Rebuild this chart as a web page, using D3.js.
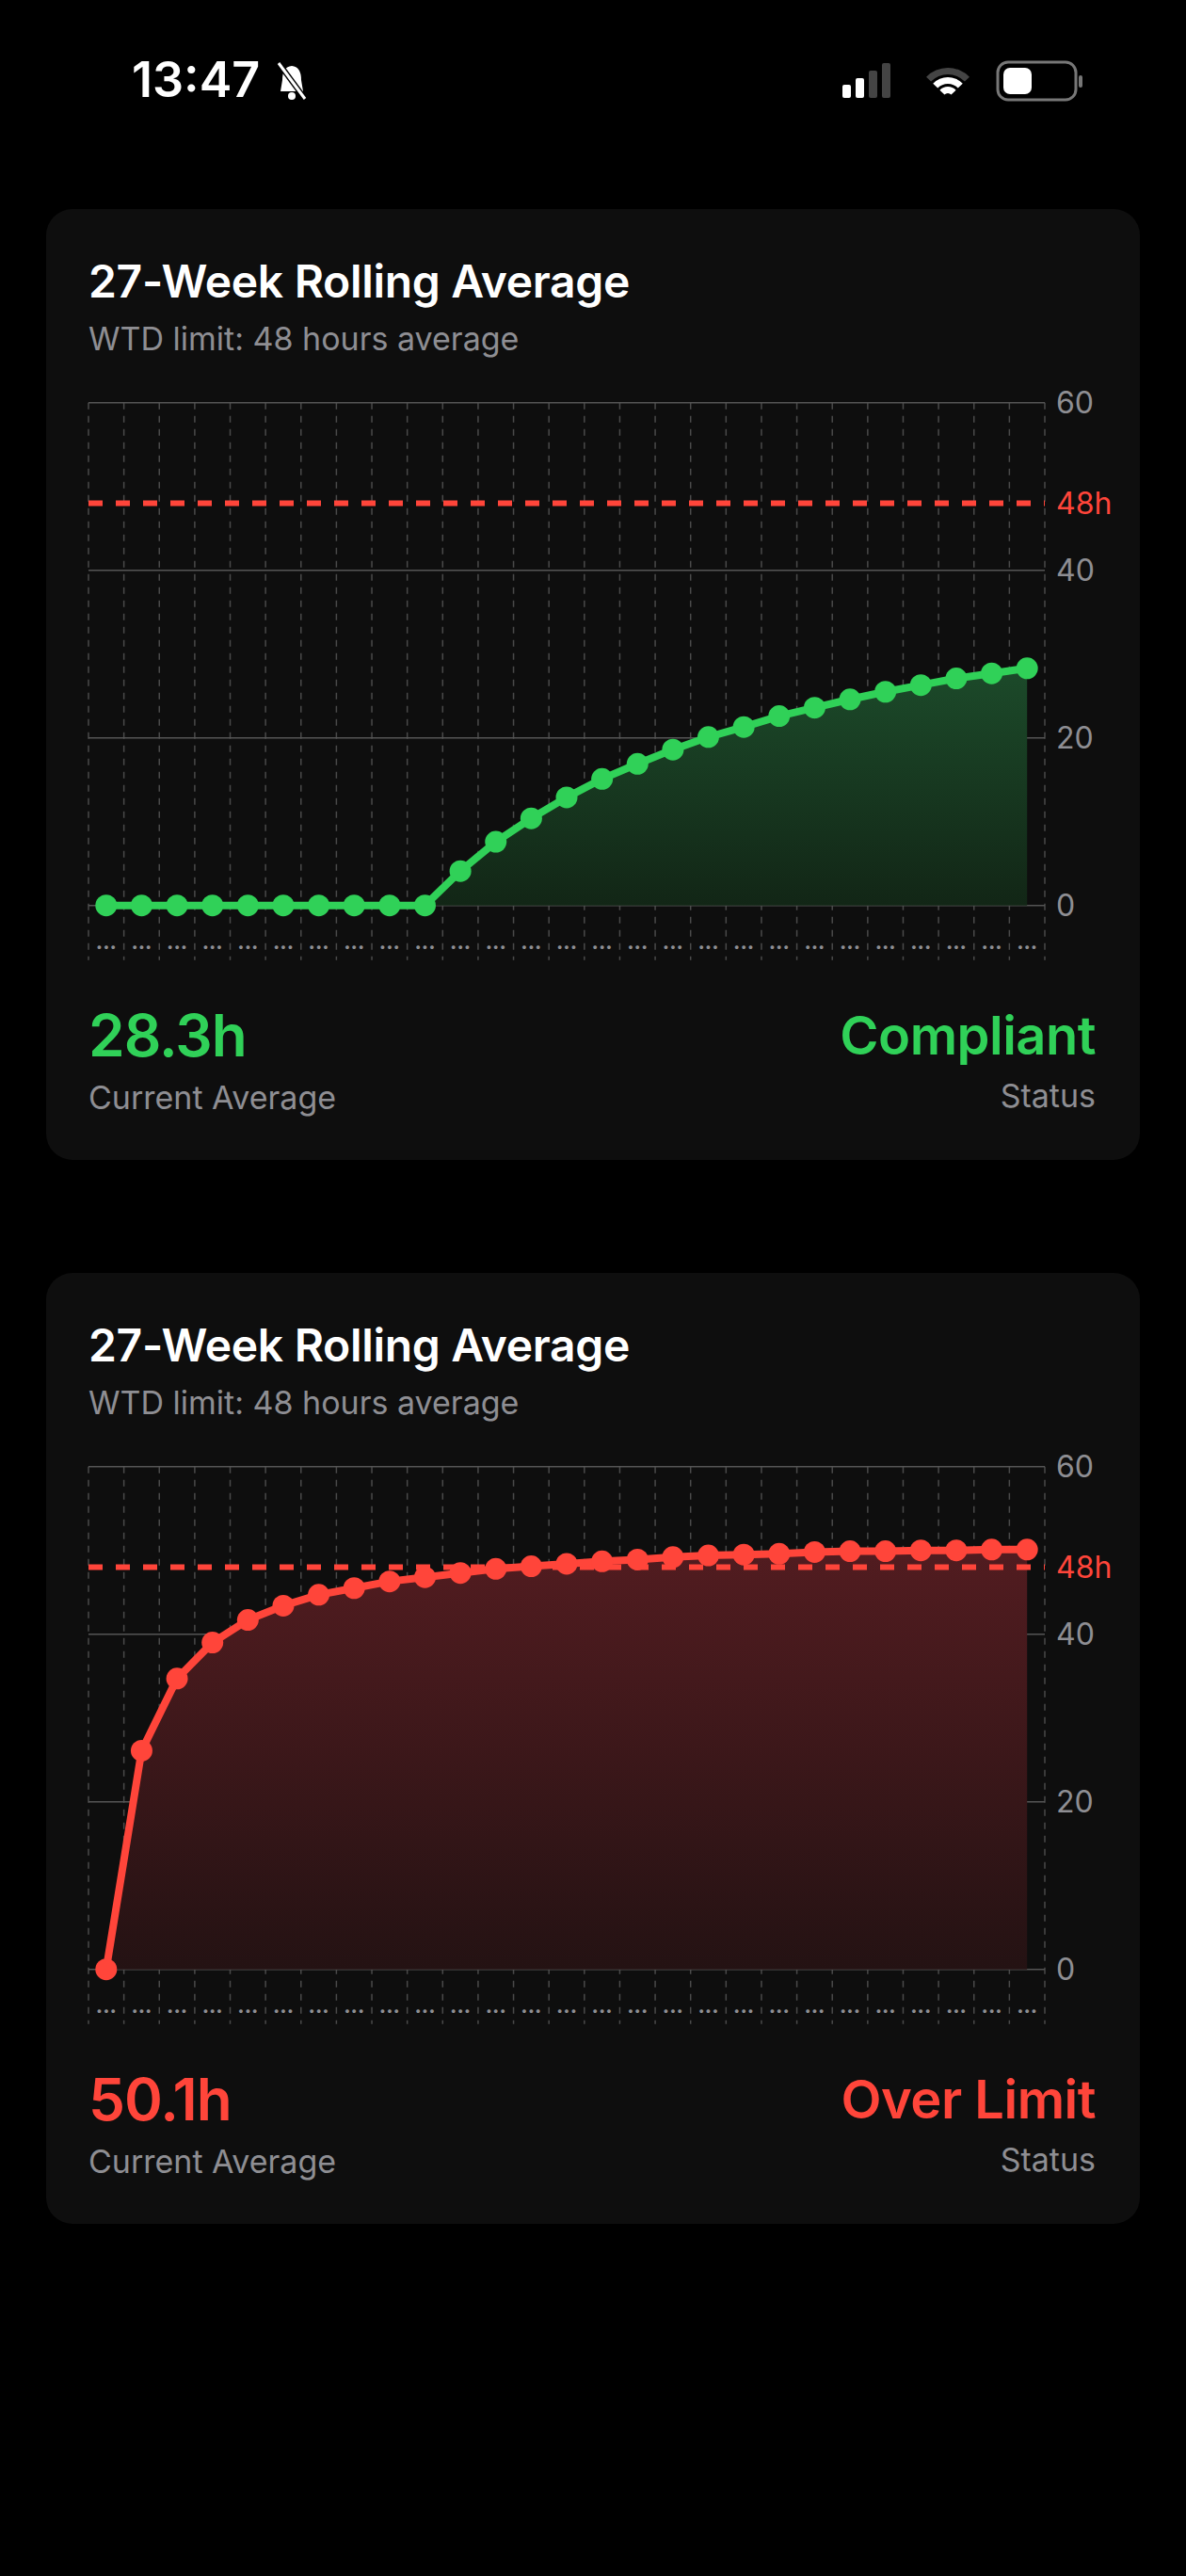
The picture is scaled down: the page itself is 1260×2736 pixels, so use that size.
<!DOCTYPE html>
<html>
<head>
<meta charset="utf-8">
<script src="https://cdn.jsdelivr.net/npm/d3@7"></script>
<style>
  html, body { margin: 0; padding: 0; background: #000; }
  svg { display: block; font-family: Inter, "Noto Sans", sans-serif; }
</style>
</head>
<body>
<svg id="screen" width="1260" height="2736"></svg>
<script>
// weekly 27-week rolling averages
const weeks = d3.range(1, 28).map(d => "W" + d);
const compliantValues = [0, 0, 0, 0, 0, 0, 0, 0, 0, 0, 4.1, 7.6, 10.4, 12.9, 15.1, 16.9, 18.6, 20.1, 21.3, 22.6, 23.6, 24.6, 25.5, 26.3, 27.1, 27.7, 28.3];
const overValues = [0, 26.1, 34.7, 39.0, 41.7, 43.4, 44.7, 45.5, 46.3, 46.8, 47.3, 47.8, 48.1, 48.4, 48.7, 48.9, 49.2, 49.4, 49.5, 49.6, 49.8, 49.9, 49.9, 50.0, 50.0, 50.1, 50.1];
const yTicks = [0, 20, 40, 60];
const limit = 48;

const cards = [
  { top: 222, values: compliantValues, color: "#30d158", fillTop: "#1c4a2a", fillBot: "#122616", current: "28.3h", status: "Compliant", id: "g" },
  { top: 1352, values: overValues, color: "#ff453a", fillTop: "#521c20", fillBot: "#241213", current: "50.1h", status: "Over Limit", id: "r" }
];

const svg = d3.select("#screen");
const defs = svg.append("defs");

// status bar
svg.append("text").attr("x", 140).attr("y", 103).attr("fill", "#fff")
  .attr("font-size", 52).attr("font-weight", 600).text("13:47");
const bell = svg.append("g").attr("transform", "translate(310,85)");
bell.append("path").attr("d", "M-12,12 L-10,0 Q-10,-14 0,-15 Q10,-14 10,0 L12,12 Z").attr("fill", "#fff");
bell.append("circle").attr("cy", 17).attr("r", 4).attr("fill", "#fff");
bell.append("line").attr("x1", -14).attr("y1", -18).attr("x2", 14).attr("y2", 20)
  .attr("stroke", "#000").attr("stroke-width", 6);
bell.append("line").attr("x1", -14).attr("y1", -18).attr("x2", 14).attr("y2", 20)
  .attr("stroke", "#fff").attr("stroke-width", 3);
[[895, 14, "#fff"], [909, 21, "#fff"], [923, 29, "#444"], [937, 37, "#444"]].forEach(([x, h, c]) => {
  svg.append("rect").attr("x", x).attr("y", 104 - h).attr("width", 9).attr("height", h).attr("rx", 2).attr("fill", c);
});
const wifi = svg.append("g").attr("transform", "translate(1007,104)");
[[32, "#444"], [22, "#fff"], [12, "#fff"]].forEach(([r, c]) => {
  wifi.append("path").attr("d", d3.arc()({ innerRadius: r - 7, outerRadius: r, startAngle: -0.8, endAngle: 0.8 }))
    .attr("fill", c);
});
svg.append("rect").attr("x", 1060).attr("y", 66).attr("width", 83).attr("height", 40).attr("rx", 11)
  .attr("fill", "none").attr("stroke", "#777").attr("stroke-width", 3);
svg.append("rect").attr("x", 1066).attr("y", 72).attr("width", 30).attr("height", 28).attr("rx", 7).attr("fill", "#fff");
svg.append("rect").attr("x", 1146).attr("y", 80).attr("width", 4).attr("height", 13).attr("rx", 2).attr("fill", "#777");

const x = d3.scaleBand().domain(weeks).range([94, 1110]);
const y = d3.scaleLinear().domain([0, 60]).range([961.7 - 222, 427.7 - 222]);

cards.forEach(card => {
  const g = svg.append("g").attr("transform", `translate(0,${card.top})`);
  g.append("rect").attr("x", 49).attr("y", 0).attr("width", 1162).attr("height", 1010).attr("rx", 28).attr("fill", "#0e0e0e");
  g.append("text").attr("x", 94).attr("y", 94).attr("fill", "#fff").attr("font-size", 48).attr("font-weight", 600)
    .attr("letter-spacing", -0.3).text("27-Week Rolling Average");
  g.append("text").attr("x", 94).attr("y", 150).attr("fill", "#8e8e93").attr("font-size", 34)
    .text("WTD limit: 48 hours average");

  const plot = g.append("g");
  // vertical dashed grid on band edges
  const edges = weeks.map(w => x(w)).concat([x.range()[1]]);
  plot.selectAll(".vg").data(edges).join("line")
    .attr("x1", d => d).attr("x2", d => d).attr("y1", y(60)).attr("y2", y(0) + 58)
    .attr("stroke", "#4a4a4a").attr("stroke-width", 1.5).attr("stroke-dasharray", "7,7");
  plot.selectAll(".hg").data(yTicks).join("line")
    .attr("x1", 94).attr("x2", 1110).attr("y1", d => y(d)).attr("y2", d => y(d))
    .attr("stroke", "#555").attr("stroke-width", 1.5);
  plot.selectAll(".yl").data(yTicks).join("text")
    .attr("x", 1122).attr("y", d => y(d) + 11).attr("fill", "#8e8e93").attr("font-size", 32).text(d => d);
  plot.selectAll(".xl").data(weeks).join("text")
    .attr("x", d => x(d) + x.bandwidth() / 2).attr("y", y(0) + 46).attr("text-anchor", "middle")
    .attr("fill", "#8e8e93").attr("font-size", 22).attr("font-weight", 700).text("...");

  const grad = defs.append("linearGradient").attr("id", "fill" + card.id).attr("x1", 0).attr("x2", 0).attr("y1", 0).attr("y2", 1);
  grad.append("stop").attr("offset", 0).attr("stop-color", card.fillTop);
  grad.append("stop").attr("offset", 1).attr("stop-color", card.fillBot);

  const cx = (d, i) => x(weeks[i]) + x.bandwidth() / 2;
  plot.append("path").datum(card.values)
    .attr("d", d3.area().x(cx).y0(y(0)).y1(d => y(d)))
    .attr("fill", `url(#fill${card.id})`);

  plot.append("line").attr("x1", 94).attr("x2", 1110).attr("y1", y(limit)).attr("y2", y(limit))
    .attr("stroke", "#ff453a").attr("stroke-width", 6).attr("stroke-dasharray", "15,14");
  plot.append("text").attr("x", 1122).attr("y", y(limit) + 11).attr("fill", "#ff453a").attr("font-size", 32).text("48h");

  plot.append("path").datum(card.values)
    .attr("d", d3.line().x(cx).y(d => y(d)))
    .attr("fill", "none").attr("stroke", card.color).attr("stroke-width", 8).attr("stroke-linejoin", "round");
  plot.selectAll(".pt").data(card.values).join("circle")
    .attr("cx", cx).attr("cy", d => y(d)).attr("r", 11.5).attr("fill", card.color);

  g.append("text").attr("x", 94).attr("y", 900).attr("fill", card.color).attr("font-size", 62).attr("font-weight", 600)
    .attr("letter-spacing", -1).text(card.current);
  g.append("text").attr("x", 94).attr("y", 956).attr("fill", "#8e8e93").attr("font-size", 34).text("Current Average");
  g.append("text").attr("x", 1164).attr("y", 898).attr("text-anchor", "end").attr("fill", card.color)
    .attr("font-size", 56).attr("font-weight", 600).attr("letter-spacing", -0.5).text(card.status);
  g.append("text").attr("x", 1164).attr("y", 954).attr("text-anchor", "end").attr("fill", "#8e8e93")
    .attr("font-size", 34).text("Status");
});
</script>
</body>
</html>
